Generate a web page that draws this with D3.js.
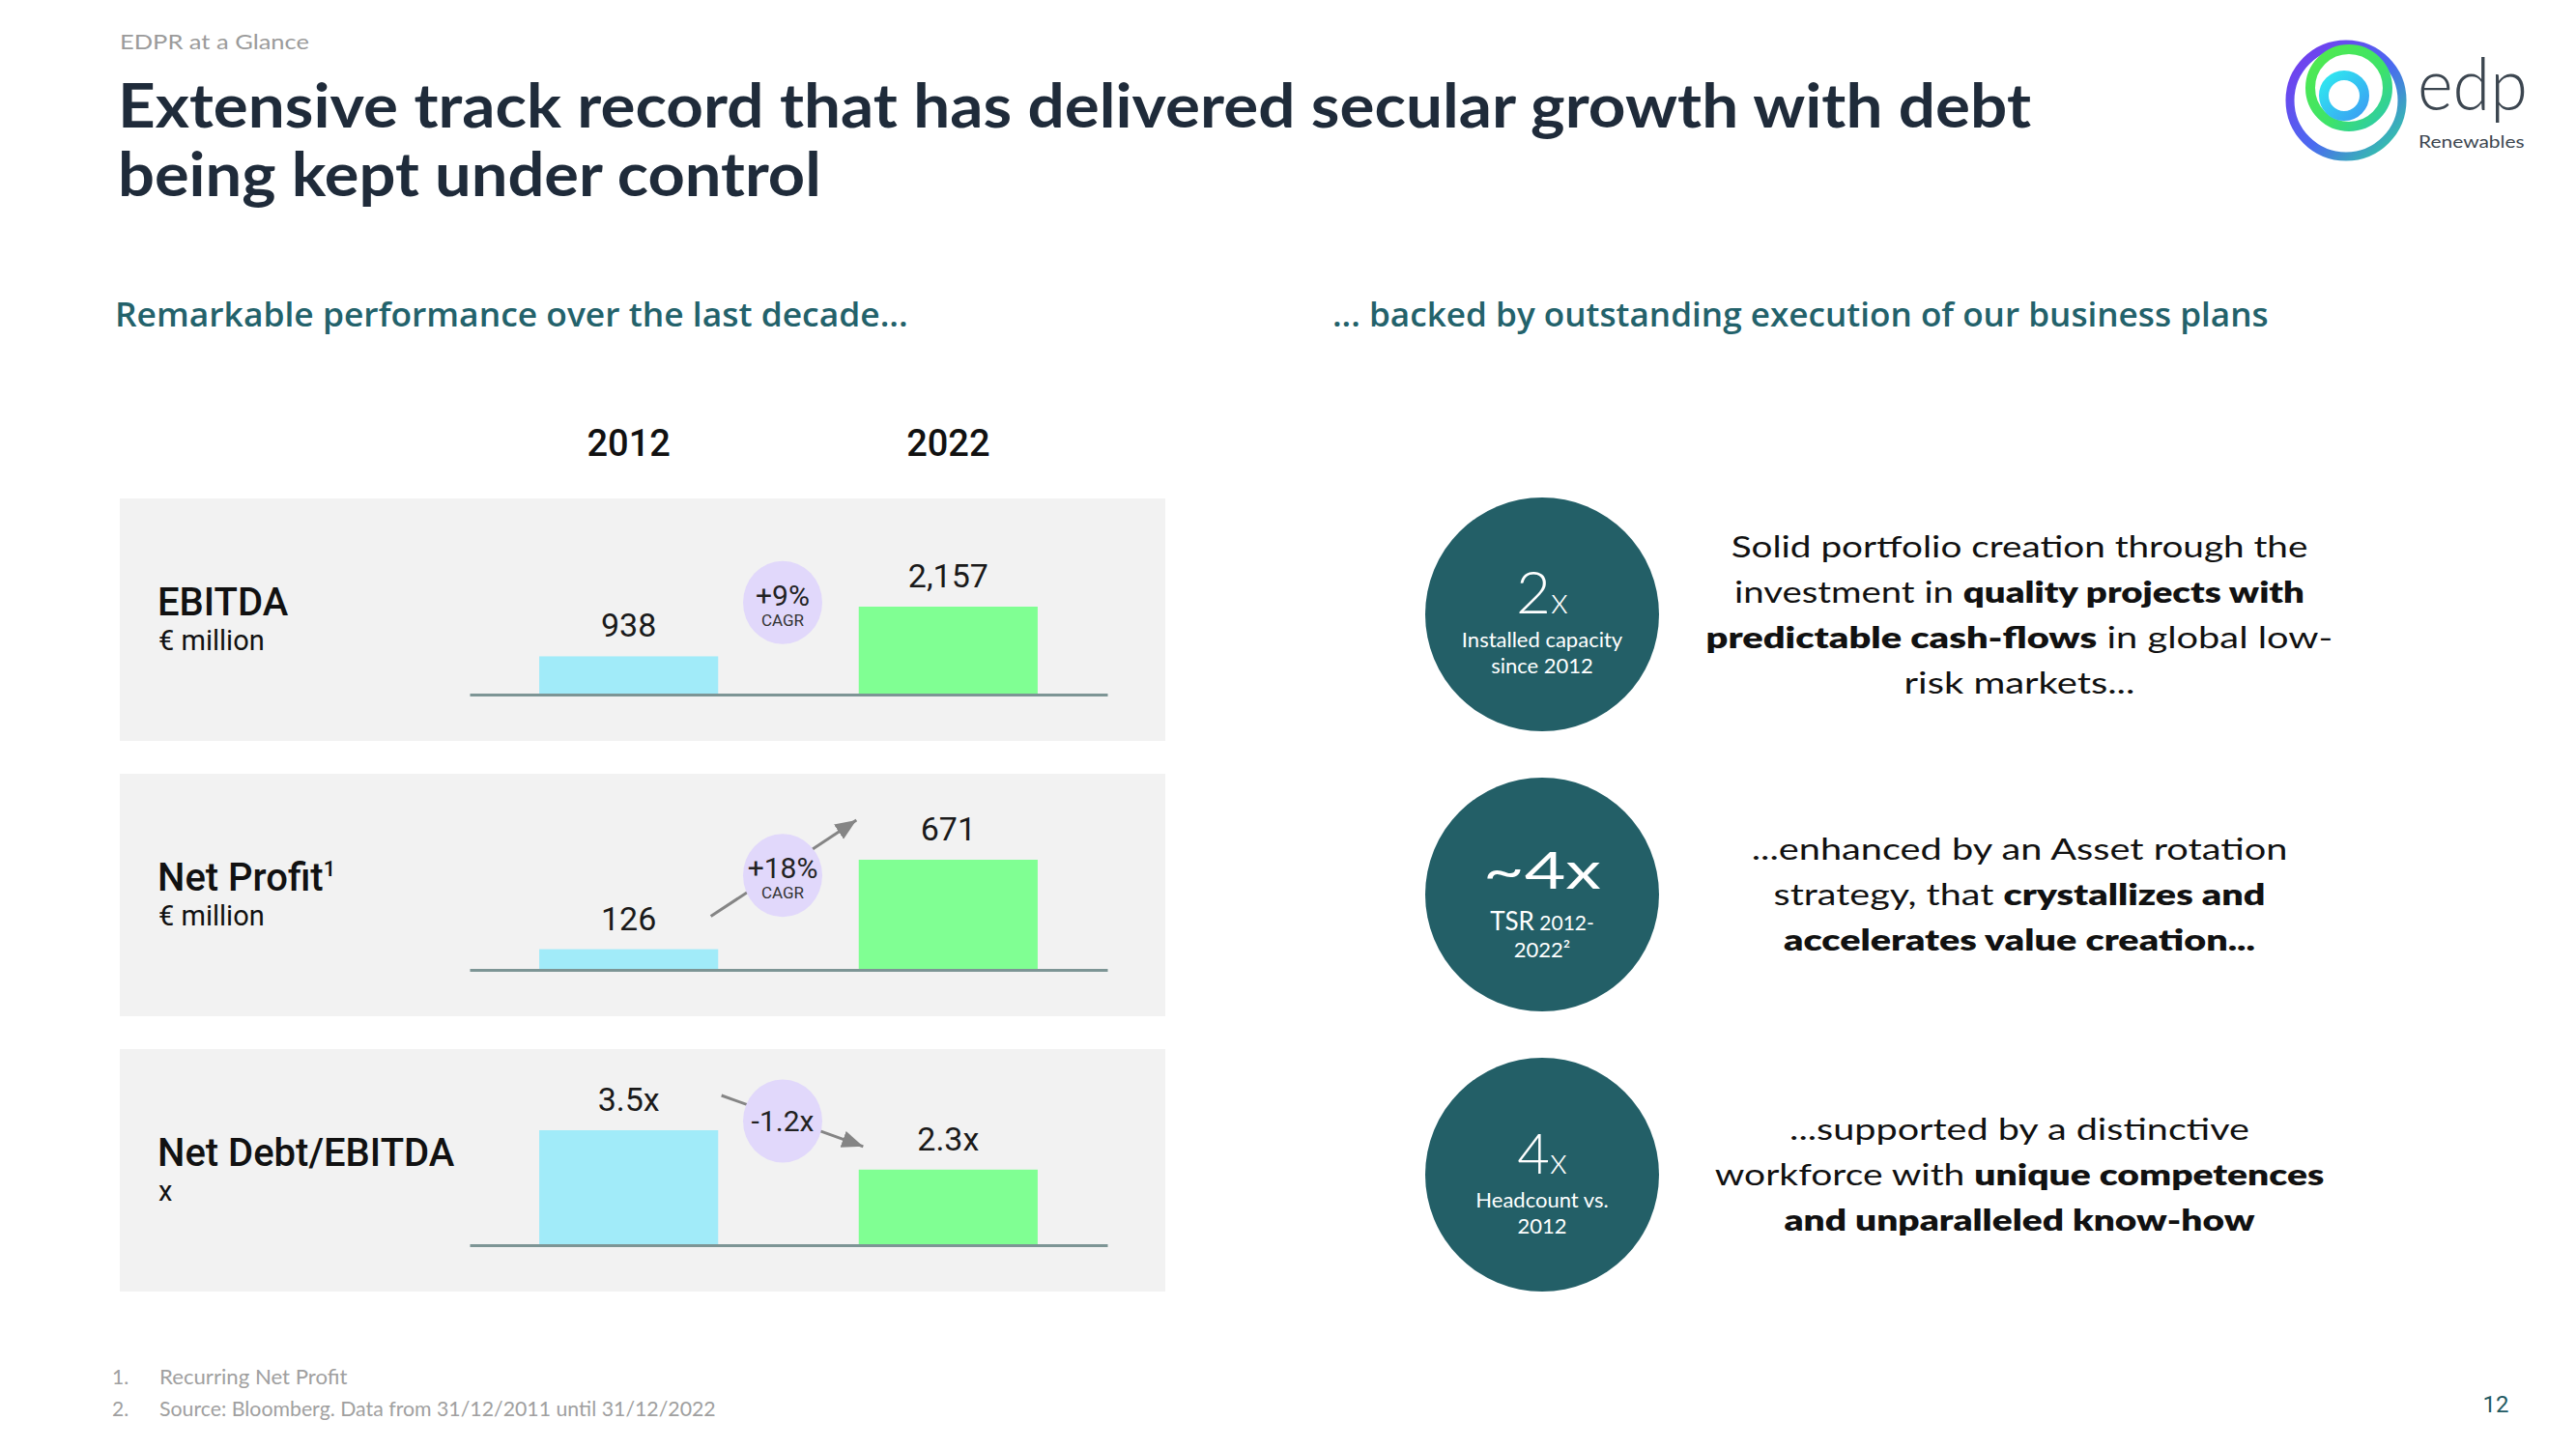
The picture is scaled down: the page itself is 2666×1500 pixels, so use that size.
<!DOCTYPE html>
<html><head><meta charset="utf-8">
<script src="https://cdn.jsdelivr.net/npm/d3@7"></script>
<style>
html,body{margin:0;padding:0;background:#fff;}
svg{display:block;}
</style></head><body>
<svg id="chart" width="2666" height="1500"></svg>
<script>
// ---------------- data ----------------
const metrics = ["EBITDA", "Net Profit", "Net Debt/EBITDA"];
const metricSup = ["", "1", ""];
const units = ["€ million", "€ million", "x"];
const years = ["2012", "2022"];
const values2012 = [938, 126, 3.5];
const values2022 = [2157, 671, 2.3];
const labels2012 = ["938", "126", "3.5x"];
const labels2022 = ["2,157", "671", "2.3x"];
const changeLabels = ["+9%", "+18%", "-1.2x"];
const changeSubLabels = ["CAGR", "CAGR", ""];
const changeArrows = [false, true, true];

const kpiMain = ["2", "~4x", "4"];
const kpiSuffix = ["x", "", "x"];
const kpiLines = [["Installed capacity", "since 2012"], ["TSR|2012-", "2022²"], ["Headcount vs.", "2012"]];

const blurbs = [
  [[["Solid portfolio creation through the", 0]], [["investment in ", 0], ["quality projects with", 1]], [["predictable cash-flows", 1], [" in global low-", 0]], [["risk markets...", 0]]],
  [[["...enhanced by an Asset rotation", 0]], [["strategy, that ", 0], ["crystallizes and", 1]], [["accelerates value creation...", 1]]],
  [[["...supported by a distinctive", 0]], [["workforce with ", 0], ["unique competences", 1]], [["and unparalleled know-how", 1]]]
];

const headerSmall = "EDPR at a Glance";
const titleLines = ["Extensive track record that has delivered secular growth with debt", "being kept under control"];
const subtitleLeft = "Remarkable performance over the last decade...";
const subtitleRight = "... backed by outstanding execution of our business plans";
const footNums = ["1.", "2."];
const footnotes = ["Recurring Net Profit", "Source: Bloomberg. Data from 31/12/2011 until 31/12/2022"];
const pageNumber = "12";

// ---------------- layout ----------------
const FT = "Lato, 'Open Sans', sans-serif";
const FC = "Roboto, 'Liberation Sans', Arial, sans-serif";
const svg = d3.select("#chart");

function addText(parent, o) {
  const g = parent.append("g").attr("transform", `translate(${o.x},${o.y})`);
  const t = g.append("text").attr("x", 0).attr("y", 0)
    .attr("text-anchor", o.anchor || "start")
    .attr("font-family", o.family || FT)
    .attr("font-size", o.size)
    .attr("font-weight", o.weight || 400)
    .attr("fill", o.fill || "#111");
  if (o.segments) {
    o.segments.forEach(s => t.append("tspan").attr("font-weight", s[1] ? 800 : 400).text(s[0]));
  } else t.text(o.text);
  if (o.width) {
    const w0 = t.node().getBBox().width;
    if (w0 > 0) t.attr("transform", `scale(${o.width / w0},1)`);
  }
  return t;
}

// header
addText(svg, {x: 124, y: 51, text: headerSmall, size: 22, fill: "#9b9b9b", width: 196});
addText(svg, {x: 122, y: 132, text: titleLines[0], size: 63, weight: 700, fill: "#1f2b3a", width: 1981});
addText(svg, {x: 122, y: 203, text: titleLines[1], size: 63, weight: 700, fill: "#1f2b3a", width: 728});
addText(svg, {x: 119, y: 338, text: subtitleLeft, size: 34, weight: 600, fill: "#23626b", family: "'Open Sans', Lato, sans-serif", width: 821});
addText(svg, {x: 1379, y: 338, text: subtitleRight, size: 34, weight: 600, fill: "#23626b", family: "'Open Sans', Lato, sans-serif", width: 969});

// logo
const defs = svg.append("defs");
function lg(id, stops, x2, y2) {
  const g = defs.append("linearGradient").attr("id", id).attr("x1", 0).attr("y1", 0).attr("x2", x2).attr("y2", y2);
  stops.forEach(s => g.append("stop").attr("offset", s[0]).attr("stop-color", s[1]));
}
lg("gOuter", [[0, "#7a36ee"], [0.55, "#4a6af0"], [1, "#2fd79a"]], 1, 1);
lg("gGreen", [[0, "#52ea4c"], [0.6, "#3de36a"], [1, "#2cc7b0"]], 1, 1);
lg("gCyan", [[0, "#2fe9f0"], [1, "#3b9ff3"]], 1, 1);
const logo = svg.append("g");
logo.append("circle").attr("cx", 2428).attr("cy", 104).attr("r", 58).attr("fill", "none").attr("stroke", "url(#gOuter)").attr("stroke-width", 9);
logo.append("circle").attr("cx", 2431).attr("cy", 91).attr("r", 40).attr("fill", "none").attr("stroke", "url(#gGreen)").attr("stroke-width", 10);
logo.append("circle").attr("cx", 2426).attr("cy", 99).attr("r", 21).attr("fill", "none").attr("stroke", "url(#gCyan)").attr("stroke-width", 10);
addText(svg, {x: 2502, y: 114, text: "edp", size: 74, weight: 300, fill: "#3c4650", family: "Lato, sans-serif", width: 114});
addText(svg, {x: 2503, y: 153, text: "Renewables", size: 18, fill: "#3c4650", family: "Lato, sans-serif", width: 110});

// ---------------- left panels ----------------
const panelTop = [516, 801, 1086];
const panelH = 251, panelX = 124, panelW = 1082;
const barMaxPx = [91, 114, 119];
const x = d3.scaleBand().domain(years).range([486, 1146]).paddingInner(0.44).paddingOuter(0.218);

years.forEach(yr => addText(svg, {x: x(yr) + x.bandwidth() / 2, y: 472, text: yr, size: 38, weight: 500, family: FC, fill: "#111", anchor: "middle"}));

defs.append("marker").attr("id", "arrow").attr("markerUnits", "userSpaceOnUse")
  .attr("markerWidth", 24).attr("markerHeight", 20).attr("refX", 22).attr("refY", 10)
  .attr("orient", "auto").append("path").attr("d", "M0,1 L22,10 L0,19 Z").attr("fill", "#858585");

metrics.forEach((m, i) => {
  const top = panelTop[i];
  const base = top + 203;
  const g = svg.append("g");
  g.append("rect").attr("x", panelX).attr("y", top).attr("width", panelW).attr("height", panelH).attr("fill", "#f2f2f2");

  const maxV = Math.max(values2012[i], values2022[i]);
  const y = d3.scaleLinear().domain([0, maxV]).range([base, base - barMaxPx[i]]);
  const vals = [values2012[i], values2022[i]];
  const labs = [labels2012[i], labels2022[i]];
  const cols = ["#a1ebf9", "#80ff93"];

  g.selectAll("rect.bar").data(years).join("rect").attr("class", "bar")
    .attr("x", d => x(d)).attr("width", x.bandwidth())
    .attr("y", (d, j) => y(vals[j])).attr("height", (d, j) => base - y(vals[j]))
    .attr("fill", (d, j) => cols[j]);

  const axis = d3.axisBottom(x).tickSize(0).tickSizeOuter(0).tickFormat("");
  const ag = g.append("g").attr("transform", `translate(0,${base})`).call(axis);
  ag.selectAll(".tick").remove();
  ag.select(".domain").attr("stroke", "#7d9595").attr("stroke-width", 3);

  const lb = vals.map(v => y(v) - 20);
  years.forEach((yr, j) => addText(g, {x: x(yr) + x.bandwidth() / 2, y: lb[j], text: labs[j], size: 34, family: FC, fill: "#1a1a1a", anchor: "middle"}));

  const c0 = x(years[0]) + x.bandwidth() / 2, c1 = x(years[1]) + x.bandwidth() / 2;
  if (changeArrows[i]) {
    const rising = vals[1] > vals[0];
    const sx = c0 + (rising ? 85 : 96), sy = lb[0] - (rising ? 14 : 16);
    const ex = c1 - (rising ? 95 : 88), ey = lb[1] - (rising ? 21 : 4);
    g.append("line").attr("x1", sx).attr("y1", sy).attr("x2", ex).attr("y2", ey)
      .attr("stroke", "#858585").attr("stroke-width", 3).attr("marker-end", "url(#arrow)");
  }
  const cx = (c0 + c1) / 2 - 6;
  const cy = (lb[0] + lb[1]) / 2 - 10;
  g.append("ellipse").attr("cx", cx).attr("cy", cy).attr("rx", 41).attr("ry", 43).attr("fill", "#e1d8fb");
  if (changeSubLabels[i]) {
    addText(g, {x: cx, y: cy + 3, text: changeLabels[i], size: 30, family: FC, fill: "#222", anchor: "middle"});
    addText(g, {x: cx, y: cy + 24, text: changeSubLabels[i], size: 17, family: FC, fill: "#333", anchor: "middle"});
  } else {
    addText(g, {x: cx, y: cy + 11, text: changeLabels[i], size: 30, family: FC, fill: "#222", anchor: "middle"});
  }

  const t = addText(g, {x: 163, y: top + 121, text: m, size: 40, weight: 500, family: FC, fill: "#111"});
  if (metricSup[i]) t.append("tspan").attr("font-size", 22).attr("dy", -15).text(metricSup[i]);
  addText(g, {x: 164, y: top + 157, text: units[i], size: 29, family: FC, fill: "#111"});
});

// ---------------- right side ----------------
const circY = [636, 926, 1216];
const circX = 1596;
const mainSize = [62, 52, 58];
const blurbWidths = [[597, 590, 649, 239], [555, 509, 488], [476, 631, 488]];

kpiMain.forEach((k, i) => {
  const cy = circY[i];
  const g = svg.append("g");
  g.append("circle").attr("cx", circX).attr("cy", cy).attr("r", 121).attr("fill", "#235f67");
  const t = addText(g, {x: circX, y: cy - (i === 1 ? 6 : 1), text: k, size: mainSize[i], weight: i === 1 ? 400 : 300, fill: "#fff", anchor: "middle", width: i === 1 ? 122 : null});
  if (kpiSuffix[i]) t.append("tspan").attr("font-size", 38).text(kpiSuffix[i]);
  kpiLines[i].forEach((ln, j) => {
    const yy = cy + (i === 1 ? 37 + j * 28 : 34 + j * 27);
    if (ln.includes("|")) {
      const [a, b] = ln.split("|");
      const tt = addText(g, {x: circX, y: yy, text: a, size: 26, fill: "#fff", anchor: "middle"});
      tt.append("tspan").attr("font-size", 21).text(" " + b);
    } else {
      addText(g, {x: circX, y: yy, text: ln, size: 22, fill: "#fff", anchor: "middle"});
    }
  });

  const lines = blurbs[i];
  const mid = cy + 11;
  lines.forEach((segs, j) => {
    const yy = mid + (j - (lines.length - 1) / 2) * 47;
    addText(svg, {x: 2090, y: yy, segments: segs, size: 31, fill: "#111", anchor: "middle", width: blurbWidths[i][j]});
  });
});

// ---------------- footer ----------------
const footY = [1433, 1466];
const footW = [195, 576];
footnotes.forEach((f, i) => {
  addText(svg, {x: 116, y: footY[i], text: footNums[i], size: 21, fill: "#a0a0a0"});
  addText(svg, {x: 165, y: footY[i], text: f, size: 21, fill: "#a0a0a0", width: footW[i]});
});
addText(svg, {x: 2583, y: 1462, text: pageNumber, size: 24, fill: "#1f5a63", anchor: "middle", family: FC});
</script>
</body></html>
